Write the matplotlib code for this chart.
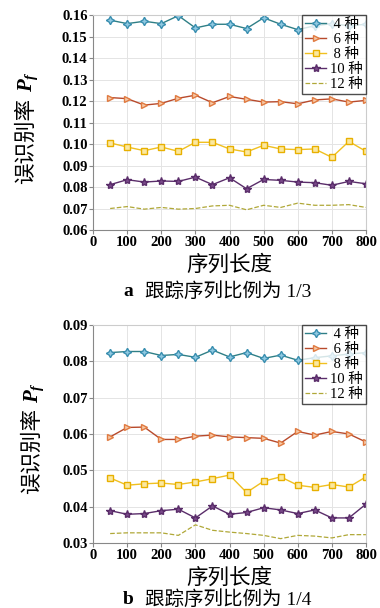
import matplotlib
matplotlib.use('Agg')
import matplotlib.pyplot as plt
import numpy as np

plt.rcParams['font.family'] = ['Liberation Serif', 'Noto Sans CJK SC']
plt.rcParams['mathtext.fontset'] = 'custom'
plt.rcParams['mathtext.rm'] = 'Liberation Serif:bold'
plt.rcParams['mathtext.it'] = 'Liberation Serif:italic:bold'
plt.rcParams['mathtext.bf'] = 'Liberation Serif:bold'

# Data
lengths = [50, 100, 150, 200, 250, 300, 350, 400, 450, 500, 550, 600, 650, 700, 750, 800]
labels = [' 4 种', ' 6 种', ' 8 种', '10 种', '12 种']

# a: tracking ratio 1/3
a_4 = [0.1576, 0.1560, 0.1571, 0.1560, 0.1597, 0.1540, 0.1557, 0.1557,
       0.1537, 0.1587, 0.1557, 0.1532, 0.1550, 0.1560, 0.1550, 0.1557]
a_6 = [0.1216, 0.1211, 0.1181, 0.1189, 0.1213, 0.1227, 0.1192, 0.1221,
       0.1208, 0.1195, 0.1197, 0.1187, 0.1205, 0.1210, 0.1195, 0.1203]
a_8 = [0.1005, 0.0986, 0.0969, 0.0986, 0.0966, 0.1008, 0.1008, 0.0977,
       0.0963, 0.0994, 0.0977, 0.0974, 0.0977, 0.0938, 0.1012, 0.0966]
a_10 = [0.0811, 0.0834, 0.0823, 0.0828, 0.0826, 0.0846, 0.0811, 0.0843,
        0.0792, 0.0835, 0.0831, 0.0823, 0.0820, 0.0808, 0.0826, 0.0815]
a_12 = [0.0700, 0.0709, 0.0697, 0.0705, 0.0697, 0.0700, 0.0712, 0.0715,
        0.0694, 0.0715, 0.0705, 0.0725, 0.0715, 0.0715, 0.0718, 0.0705]

# b: tracking ratio 1/4
b_4 = [0.0824, 0.0827, 0.0827, 0.0816, 0.0819, 0.0811, 0.0831, 0.0812,
       0.0824, 0.0808, 0.0817, 0.0803, 0.0810, 0.0815, 0.0820, 0.0824]
b_6 = [0.0592, 0.0618, 0.0619, 0.0585, 0.0585, 0.0594, 0.0597, 0.0592,
       0.0590, 0.0588, 0.0575, 0.0607, 0.0597, 0.0607, 0.0600, 0.0578]
b_8 = [0.0479, 0.0459, 0.0463, 0.0465, 0.0461, 0.0468, 0.0477, 0.0487,
       0.0439, 0.0470, 0.0482, 0.0459, 0.0453, 0.0461, 0.0454, 0.0482]
b_10 = [0.0389, 0.0379, 0.0381, 0.0389, 0.0393, 0.0369, 0.0402, 0.0379,
        0.0384, 0.0397, 0.0391, 0.0381, 0.0391, 0.0369, 0.0369, 0.0407]
b_12 = [0.0326, 0.0328, 0.0328, 0.0328, 0.0321, 0.0350, 0.0335, 0.0330,
        0.0326, 0.0321, 0.0312, 0.0321, 0.0319, 0.0314, 0.0323, 0.0323]

# Styles
styles = [
    dict(color='#2f7f86', marker=(4, 1, 0), ms=6, mfc='#8fc8e0', mec='#3a8fb0', lw=1),
    dict(color='#b84a2c', marker='>', ms=5, mfc='#f6c9a8', mec='#e07a40', lw=1),
    dict(color='#f0c020', marker='s', ms=4.5, mfc='#fbe8a0', mec='#e8b000', lw=1),
    dict(color='#5a2d6a', marker='*', ms=6, mfc='#7a4a8a', mec='#5a2d6a', lw=1),
    dict(color='#b0a838', ls='--', lw=0.9),
]

W, H = 380, 608
fig = plt.figure(figsize=(3.8, 6.08), dpi=100)
ax1 = fig.add_axes([0.245, 0.6217, 0.718, 0.3536])
ax2 = fig.add_axes([0.245, 0.1069, 0.718, 0.3586])


def draw(ax, series, ylim, yticks, letter, caption, cap_y, ylab_x, ylab_y, p_y):
    for ys, lab, st in zip(series, labels, styles):
        ax.plot(lengths, ys, label=lab, **st)
    ax.set_xlim(0, 800)
    ax.set_ylim(*ylim)
    ax.set_xticks(range(0, 801, 100))
    ax.set_yticks(yticks)
    ax.set_yticklabels(['%.2f' % t for t in yticks])
    ax.grid(True, color='#e4e4e4', lw=0.7)
    for sp in ax.spines.values():
        sp.set_color('#cccccc')
    ax.spines['left'].set_color('#888888')
    ax.spines['bottom'].set_color('#888888')
    ax.tick_params(labelsize=10.5, length=3, color='#888888', pad=1)
    for t in ax.get_xticklabels() + ax.get_yticklabels():
        t.set_fontweight('bold')
    ax.set_xlabel('序列长度', fontsize=15.5, labelpad=5)
    # y label: Chinese part and italic P_f
    fig.text(ylab_x / W, 1 - ylab_y / H, '误识别率', fontsize=15.5, rotation=90,
             ha='center', va='center')
    fig.text(ylab_x / W + 0.004, 1 - p_y / H, '$P_{f}$', fontsize=15, rotation=90,
             ha='center', va='center')
    # caption
    fig.text(128 / W, 1 - cap_y / H, letter, fontsize=14, fontweight='bold',
             ha='center', va='center')
    fig.text(228 / W, 1 - cap_y / H, caption, fontsize=14, ha='center', va='center')
    leg = ax.legend(loc='upper right', fontsize=10.5, frameon=True, fancybox=False,
                    borderaxespad=0, handlelength=1.4, handletextpad=0.3,
                    labelspacing=0.12, borderpad=0.2)
    leg.get_frame().set_edgecolor('#222222')
    leg.get_frame().set_linewidth(1.0)


draw(ax1, [a_4, a_6, a_8, a_10, a_12], (0.06, 0.16),
     np.arange(0.06, 0.1601, 0.01), 'a', '跟踪序列比例为 1/3', 292, 27, 141, 82)
draw(ax2, [b_4, b_6, b_8, b_10, b_12], (0.03, 0.09),
     np.arange(0.03, 0.0901, 0.01), 'b', '跟踪序列比例为 1/4', 600, 33, 451, 393)

fig.savefig('out.png', dpi=100)
